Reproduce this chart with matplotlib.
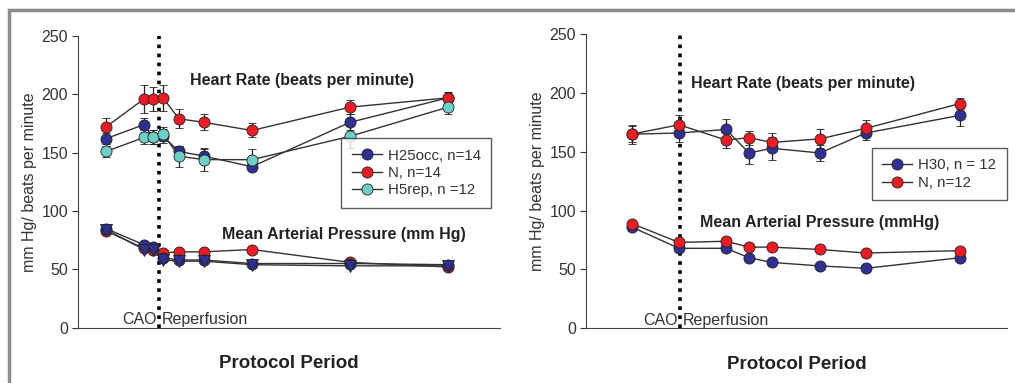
import matplotlib.pyplot as plt
from matplotlib.patches import Rectangle
from matplotlib.lines import Line2D

plt.rcParams['font.family'] = ['Liberation Sans', 'DejaVu Sans']

# ---- left panel data (positions along the protocol axis) ----
t_left = [28, 66, 75, 85, 101, 126, 174, 272, 370]
cut_left = 81

hr_h25 = [162, 174, 163, 164, 151, 147, 138, 176, 197]
hr_h25_err = [5, 6, 6, 6, 5, 6, 4, 7, 5]
hr_n14 = [172, 196, 196, 197, 179, 176, 169, 189, 197]
hr_n14_err = [8, 12, 10, 11, 8, 7, 6, 6, 5]
hr_h5 = [151, 163, 163, 166, 147, 144, 144, 164, 189]
hr_h5_err = [5, 6, 6, 6, 9, 10, 9, 10, 6]

map_h25 = [85, 71, 69, 60, 58, 58, 55, 55, 54]
map_n14 = [83, 68, 67, 64, 65, 65, 67, 56, 52]
map_h5 = [84, 67, 67, 58, 57, 57, 54, 53, 53]

# ---- right panel data ----
t_right = [46, 93, 140, 163, 186, 234, 280, 374]
cut_right = 94

hr_h30 = [165, 166, 169, 149, 153, 149, 166, 181]
hr_h30_err = [8, 8, 9, 9, 10, 7, 6, 9]
hr_n12 = [165, 173, 160, 162, 158, 161, 170, 191]
hr_n12_err = [7, 8, 7, 6, 8, 8, 7, 5]

map_h30 = [86, 68, 68, 60, 56, 53, 51, 60]
map_n12 = [89, 73, 74, 69, 69, 67, 64, 66]

BLUE = '#2e3192'
RED = '#ed1c24'
CYAN = '#6ccfc8'
LINE = '#333333'
TXT = '#333333'

fig = plt.figure(figsize=(10.15, 3.83), dpi=100)

# gray frame around the figure (only left and top edges show)
fig.patches.append(Rectangle((0.0089, -0.05), 1.1, 1.024, transform=fig.transFigure,
                             fill=False, edgecolor='#8c8c8c', linewidth=2.5))


def style_axes(ax, xmax):
    ax.set_xlim(0, xmax)
    ax.set_ylim(0, 250)
    ax.set_yticks([0, 50, 100, 150, 200, 250])
    ax.set_xticks([])
    ax.spines['top'].set_visible(False)
    ax.spines['right'].set_visible(False)
    ax.spines['left'].set_color('#444444')
    ax.spines['bottom'].set_color('#444444')
    ax.tick_params(axis='y', labelsize=11.5, colors=TXT, length=4, pad=3)
    ax.set_ylabel('mm Hg/ beats per minute', fontsize=11.5, color=TXT, labelpad=3)
    ax.set_xlabel('Protocol Period', fontsize=13.5, fontweight='bold', labelpad=20,
                  color='#222222')
    ax.set_facecolor('none')


def series(ax, t, y, err, color, marker='o'):
    ax.errorbar(t, y, yerr=err, color=LINE, lw=1.0, marker=marker, ms=8,
                mfc=color, mec='#222222', mew=0.6, ecolor='#222222',
                elinewidth=0.9, capsize=3, capthick=0.9, zorder=3)


def handle(color):
    return Line2D([], [], color=LINE, lw=1.0, marker='o', ms=8, mfc=color,
                  mec='#222222', mew=0.6)


def add_legend(ax, colors, labels, anchor):
    leg = ax.legend([handle(c) for c in colors], labels, loc='upper right',
                    bbox_to_anchor=anchor, frameon=True, fancybox=False,
                    fontsize=10.8, handlelength=2.0, borderpad=0.7,
                    labelspacing=0.22, handletextpad=0.4, borderaxespad=0)
    leg.get_frame().set_edgecolor('#333333')
    leg.get_frame().set_linewidth(1.0)
    for t in leg.get_texts():
        t.set_color(TXT)
    return leg


def phase_labels(ax, cut):
    ax.axvline(cut, ymin=0, ymax=1.005, color='black', ls=(0, (1, 1.5)), lw=2.6, zorder=2)
    ax.text(cut - 2, 0.5, 'CAO', ha='right', va='bottom', fontsize=11.5, color=TXT)
    ax.text(cut + 3, 0.5, 'Reperfusion', ha='left', va='bottom', fontsize=11.5, color=TXT)


# ---------------- left panel ----------------
ax1 = fig.add_axes([0.0768, 0.1444, 0.4158, 0.7617])
style_axes(ax1, 422)
series(ax1, t_left, hr_h25, hr_h25_err, BLUE)
series(ax1, t_left, hr_n14, hr_n14_err, RED)
series(ax1, t_left, hr_h5, hr_h5_err, CYAN)
series(ax1, t_left, map_n14, None, RED)
series(ax1, t_left, map_h25, None, BLUE)
series(ax1, t_left, map_h5, None, BLUE, marker='v')
phase_labels(ax1, cut_left)
ax1.text(0.531, 0.846, 'Heart Rate (beats per minute)', transform=ax1.transAxes,
         ha='center', va='center', fontsize=11.5, fontweight='bold', color='#222222')
ax1.text(0.630, 0.318, 'Mean Arterial Pressure (mm Hg)', transform=ax1.transAxes,
         ha='center', va='center', fontsize=11.5, fontweight='bold', color='#222222')
add_legend(ax1, [BLUE, RED, CYAN], ['H25occ, n=14', 'N, n=14', 'H5rep, n =12'],
           (0.979, 0.650))

# ---------------- right panel ----------------
ax2 = fig.add_axes([0.5773, 0.1428, 0.4148, 0.768])
style_axes(ax2, 421)
series(ax2, t_right, hr_h30, hr_h30_err, BLUE)
series(ax2, t_right, hr_n12, hr_n12_err, RED)
series(ax2, t_right, map_h30, None, BLUE)
series(ax2, t_right, map_n12, None, RED)
phase_labels(ax2, cut_right)
ax2.text(0.515, 0.833, 'Heart Rate (beats per minute)', transform=ax2.transAxes,
         ha='center', va='center', fontsize=11.5, fontweight='bold', color='#222222')
ax2.text(0.556, 0.361, 'Mean Arterial Pressure (mmHg)', transform=ax2.transAxes,
         ha='center', va='center', fontsize=11.5, fontweight='bold', color='#222222')
add_legend(ax2, [BLUE, RED], ['H30, n = 12', 'N, n=12'], (1.0, 0.613))

fig.savefig('out.png', dpi=100, facecolor='white')
